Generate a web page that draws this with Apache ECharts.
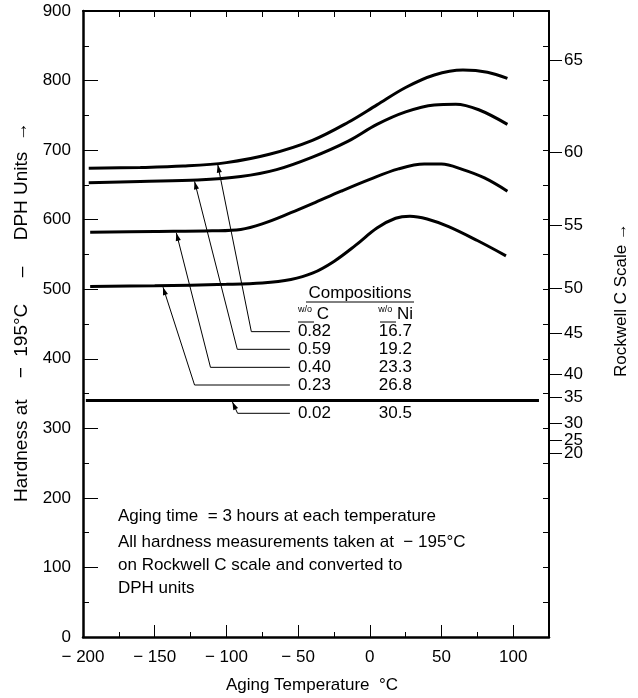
<!DOCTYPE html>
<html><head><meta charset="utf-8">
<script src="https://cdn.jsdelivr.net/npm/echarts@6/dist/echarts.min.js"></script>
<style>html,body{margin:0;padding:0;background:#fff}#c{width:638px;height:698px}</style>
</head><body><div id="c"></div>
<script>
// ---- data ----
const c082 = [[-196,674],[-160,675],[-130,677],[-100,682],[-70,694],[-40,714],[-15,740],[5,765],[25,790],[45,808],[65,815],[82,812],[96,803]];
const c059 = [[-196,653],[-160,655],[-120,657],[-90,662],[-65,672],[-40,690],[-15,713],[5,737],[25,755],[45,765],[60,766],[76,758],[96,737]];
const c040 = [[-195,582],[-150,583],[-110,584],[-90,586],[-75,594],[-55,610],[-40,623],[-20,641],[0,658],[20,673],[38,680],[50,680],[65,672],[80,660],[96,641]];
const c023 = [[-195,504],[-150,505],[-100,507],[-75,509],[-55,514],[-40,523],[-25,540],[-10,563],[5,588],[18,602],[28,605],[40,601],[55,590],[75,570],[95,548]];
const c002 = [[-198,340],[118,340]];
const carbonPct = ['0.82','0.59','0.40','0.23','0.02'];
const nickelPct = ['16.7','19.2','23.3','26.8','30.5'];
const xMajorTicks = [-200,-150,-100,-50,0,50,100];
const xMinorTicks = [-175,-125,-75,-25,25,75];
const xTopTicks = [-175,-150,-125,-100,-75,-50,-25,0,25,50,75,100];
const rockwellHRC = [20,25,30,35,40,45,50,55,60,65];
const rockwellDPH = [264,283,307,344,378,436,502,592,697,829];

const FONT = '"Liberation Sans", Arial, Helvetica, sans-serif';
const chart = echarts.init(document.getElementById('c'));

const curves = [c082, c059, c040, c023, c002].map(d => ({
  type: 'line', data: d, smooth: 0.35, symbol: 'none', silent: true,
  lineStyle: { color: '#000', width: 3 }, xAxisIndex: 0, yAxisIndex: 0
}));

const xCommon = { type: 'value', min: -200, max: 125, splitLine: { show: false } };
const yCommon = { type: 'value', min: 0, max: 900, splitLine: { show: false } };
const lblStyle = { color: '#000', fontSize: 17, fontFamily: FONT };

// Rockwell ticks split into two interleaved sets so close labels are not dropped
const rwEven = rockwellDPH.filter((v, i) => i % 2 === 0);
const rwOdd = rockwellDPH.filter((v, i) => i % 2 === 1);
const rockwellAxis = (vals, showLine) => Object.assign({}, yCommon, {
  position: 'right',
  axisLine: { show: showLine, onZero: false, lineStyle: { color: '#000', width: 2 } },
  axisTick: { show: true, inside: false, length: 13, customValues: vals, lineStyle: { color: '#000', width: 1 } },
  axisLabel: Object.assign({ customValues: vals, margin: 15, hideOverlap: false, showMinLabel: true, showMaxLabel: true,
    formatter: v => { const i = rockwellDPH.indexOf(v); return i >= 0 ? String(rockwellHRC[i]) : ''; } }, lblStyle)
});

chart.setOption({
  animation: false,
  grid: { left: 83, right: 89, top: 11, bottom: 61 },
  xAxis: [
    Object.assign({}, xCommon, {
      position: 'bottom',
      axisLine: { show: true, onZero: false, lineStyle: { color: '#000', width: 2.5 } },
      axisTick: { show: true, inside: true, length: 12, customValues: xMajorTicks, lineStyle: { color: '#000', width: 1 } },
      axisLabel: Object.assign({ customValues: xMajorTicks, margin: 12,
        formatter: v => v < 0 ? '\u2212 ' + (-v) : String(v) }, lblStyle)
    }),
    Object.assign({}, xCommon, {
      position: 'bottom',
      axisLine: { show: false, onZero: false },
      axisTick: { show: true, inside: true, length: 5, customValues: xMinorTicks, lineStyle: { color: '#000', width: 1 } },
      axisLabel: { show: false }
    }),
    Object.assign({}, xCommon, {
      position: 'top',
      axisLine: { show: true, onZero: false, lineStyle: { color: '#000', width: 2 } },
      axisTick: { show: true, inside: true, length: 6, customValues: xTopTicks, lineStyle: { color: '#000', width: 1 } },
      axisLabel: { show: false }
    })
  ],
  yAxis: [
    Object.assign({}, yCommon, {
      position: 'left', interval: 100,
      axisLine: { show: true, onZero: false, lineStyle: { color: '#000', width: 2.5 } },
      axisTick: { show: true, inside: true, length: 15, lineStyle: { color: '#000', width: 1 } },
      minorTick: { show: true, splitNumber: 2, length: 6, lineStyle: { color: '#000', width: 1 } },
      axisLabel: Object.assign({ margin: 12 }, lblStyle)
    }),
    rockwellAxis(rwEven, true),
    rockwellAxis(rwOdd, false),
    Object.assign({}, yCommon, {
      position: 'right', interval: 50,
      axisLine: { show: false, onZero: false },
      axisTick: { show: true, inside: true, length: 6, lineStyle: { color: '#000', width: 1 } },
      axisLabel: { show: false }
    })
  ],
  series: curves
});

// ---- annotations ----
const P = p => chart.convertToPixel({ xAxisIndex: 0, yAxisIndex: 0 }, p);
const leaders = [
  [[-106, 679], [-82.6, 439], [-55.7, 439]],
  [[-122.2, 655], [-92.4, 413.6], [-55.7, 413.6]],
  [[-134.9, 581], [-111.1, 387.7], [-55.7, 387.7]],
  [[-144.2, 503], [-122.2, 362.3], [-55.7, 362.3]],
  [[-95.8, 338], [-92.2, 321.6], [-55.7, 321.6]]
];
const g = [];
leaders.forEach((L, i) => {
  const tip = P(L[0]), cor = P(L[1]), end = P(L[2]);
  g.push({ type: 'polyline', shape: { points: [tip, cor, end] }, style: { stroke: '#000', lineWidth: 1, fill: null }, silent: true });
  const dx = tip[0] - cor[0], dy = tip[1] - cor[1], len = Math.hypot(dx, dy);
  const ux = dx / len, uy = dy / len, al = 8, aw = 2.6;
  const bx = tip[0] - ux * al, by = tip[1] - uy * al;
  g.push({ type: 'polygon', shape: { points: [tip, [bx - uy * aw, by + ux * aw], [bx + uy * aw, by - ux * aw]] }, style: { fill: '#000' }, silent: true });
  g.push({ type: 'text', x: end[0] + 8, y: end[1], style: { text: carbonPct[i], font: '17px ' + FONT, fill: '#000', verticalAlign: 'middle', align: 'left' }, silent: true });
  const nx = P([29.4, 0])[0];
  g.push({ type: 'text', x: nx, y: end[1], style: { text: nickelPct[i], font: '17px ' + FONT, fill: '#000', verticalAlign: 'middle', align: 'right' }, silent: true });
});
// table headers
g.push({ type: 'text', x: 360, y: 293, style: { text: 'Compositions', font: '17px ' + FONT, fill: '#000', align: 'center', verticalAlign: 'middle' }, silent: true });
g.push({ type: 'line', shape: { x1: 306, y1: 302, x2: 414, y2: 302 }, style: { stroke: '#000', lineWidth: 1 }, silent: true });
g.push({ type: 'text', x: 298, y: 314, style: { text: '{s|w/o}{b| C}', rich: { s: { fontSize: 9, fontFamily: FONT, fill: '#000', verticalAlign: 'top' }, b: { fontSize: 17, fontFamily: FONT, fill: '#000' } }, verticalAlign: 'middle', align: 'left' }, silent: true });
g.push({ type: 'line', shape: { x1: 298, y1: 322, x2: 314, y2: 322 }, style: { stroke: '#000', lineWidth: 1 }, silent: true });
g.push({ type: 'text', x: 413, y: 314, style: { text: '{s|w/o}{b| Ni}', rich: { s: { fontSize: 9, fontFamily: FONT, fill: '#000', verticalAlign: 'top' }, b: { fontSize: 17, fontFamily: FONT, fill: '#000' } }, verticalAlign: 'middle', align: 'right' }, silent: true });
g.push({ type: 'line', shape: { x1: 380, y1: 322, x2: 396, y2: 322 }, style: { stroke: '#000', lineWidth: 1 }, silent: true });
// notes
const notes = ['Aging time  = 3 hours at each temperature', 'All hardness measurements taken at  \u2212 195\u00b0C', 'on Rockwell C scale and converted to', 'DPH units'];
const noteY = [516, 542, 565, 588];
notes.forEach((t, i) => g.push({ type: 'text', x: 118, y: noteY[i], style: { text: t, font: '17px ' + FONT, fill: '#000', verticalAlign: 'middle' }, silent: true }));
// axis titles
g.push({ type: 'text', x: 22, y: 312, rotation: Math.PI / 2, style: { text: 'Hardness at    \u2212  195\u00b0C     \u2013     DPH Units  \u2192', font: '19px ' + FONT, fill: '#000', align: 'center', verticalAlign: 'middle' }, silent: true });
g.push({ type: 'text', x: 621, y: 300, rotation: Math.PI / 2, style: { text: 'Rockwell C Scale \u2192', font: '17px ' + FONT, fill: '#000', align: 'center', verticalAlign: 'middle' }, silent: true });
g.push({ type: 'text', x: 312, y: 685, style: { text: 'Aging Temperature  \u00b0C', font: '17px ' + FONT, fill: '#000', align: 'center', verticalAlign: 'middle' }, silent: true });
chart.setOption({ graphic: g });
</script>
</body></html>
